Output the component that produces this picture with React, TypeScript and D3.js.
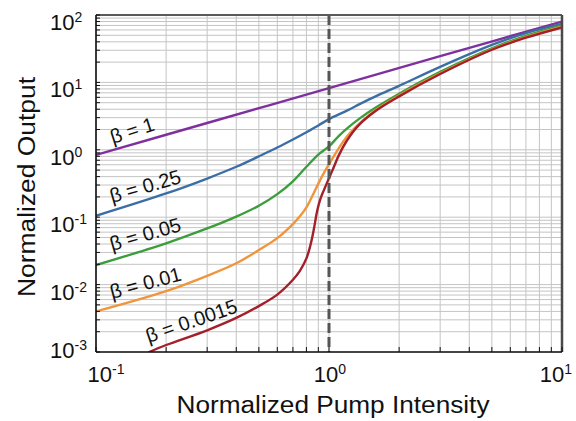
import React from 'react';
import * as d3 from 'd3';

const W = 576;
const H = 421;
const PLOT = { left: 96, right: 562, top: 15, bottom: 352 };

const xDomain = [0.1, 10];
const yDomain = [0.001, 100];
const xTickExps = [-1, 0, 1];
const yTickExps = [-3, -2, -1, 0, 1, 2];
const thresholdPump = 1;

const beta1X = [0.1, 0.3, 1, 3, 10];
const beta1Y = [0.84, 2.5, 8.2, 24.5, 80];

const beta025X = [0.1, 0.2, 0.3, 0.4, 0.5, 0.6, 0.7, 0.8, 0.9, 1.0, 1.2, 1.36, 1.6, 2, 3, 5, 7, 10];
const beta025Y = [0.105, 0.225, 0.375, 0.56, 0.8, 1.08, 1.42, 1.82, 2.3, 2.85, 3.85, 4.8, 6.3, 8.9, 17, 36, 54, 74];

const beta005X = [0.1, 0.2, 0.3, 0.4, 0.5, 0.6, 0.7, 0.8, 0.9, 1.0, 1.1, 1.2, 1.36, 1.6, 2, 3, 5, 7, 10];
const beta005Y = [0.0195, 0.041, 0.068, 0.102, 0.148, 0.22, 0.34, 0.56, 0.85, 1.12, 1.6, 2.1, 2.95, 4.3, 6.8, 14.3, 32, 49, 70];

const beta001X = [0.1, 0.2, 0.3, 0.4, 0.5, 0.6, 0.7, 0.75, 0.8, 0.85, 0.9, 0.95, 1.0, 1.08, 1.19, 1.36, 1.6, 2, 3, 5, 7, 10];
const beta001Y = [0.004, 0.008, 0.0135, 0.0207, 0.0326, 0.049, 0.079, 0.103, 0.14, 0.21, 0.315, 0.45, 0.61, 0.95, 1.55, 2.5, 3.95, 6.4, 13.6, 31, 47, 67];

const beta00015X = [0.169, 0.2, 0.3, 0.4, 0.5, 0.6, 0.7, 0.75, 0.8, 0.83, 0.86, 0.89, 0.92, 0.95, 1.0, 1.05, 1.1, 1.19, 1.33, 1.6, 2, 3, 5, 7, 10];
const beta00015Y = [0.001, 0.00127, 0.0021, 0.0032, 0.0048, 0.0071, 0.0118, 0.016, 0.0245, 0.037, 0.065, 0.125, 0.19, 0.25, 0.38, 0.56, 0.82, 1.35, 2.25, 3.85, 6.2, 13.3, 30.5, 46, 65.5];

const seriesNames = ['β = 1', 'β = 0.25', 'β = 0.05', 'β = 0.01', 'β = 0.0015'];
const seriesX = [beta1X, beta025X, beta005X, beta001X, beta00015X];
const seriesY = [beta1Y, beta025Y, beta005Y, beta001Y, beta00015Y];
const seriesColors = ['#7f2f9e', '#3c6ea6', '#3b9d3c', '#f0953b', '#a3202a'];

// label anchors in data coordinates (pump, output) and tilt
const labelX = [0.118, 0.117, 0.117, 0.117, 0.168];
const labelY = [1.22, 0.163, 0.0316, 0.0061, 0.00136];
const labelAngle = [-18, -16, -16, -15, -19];

const xTitle = 'Normalized Pump Intensity';
const yTitle = 'Normalized Output';

const FONT = '"Liberation Sans", Arial, Helvetica, sans-serif';

export default function App() {
  const x = d3.scaleLog().domain(xDomain).range([PLOT.left, PLOT.right]);
  const y = d3.scaleLog().domain(yDomain).range([PLOT.bottom, PLOT.top]);

  const line = d3
    .line<[number, number]>()
    .x((d) => x(d[0]))
    .y((d) => y(d[1]))
    .curve(d3.curveCatmullRom.alpha(0.5));

  const minorVals = (exps: number[]) => {
    const out: { v: number; major: boolean }[] = [];
    for (let i = 0; i < exps.length - 1; i++) {
      for (let m = 1; m <= 9; m++) out.push({ v: m * Math.pow(10, exps[i]), major: m === 1 });
    }
    out.push({ v: Math.pow(10, exps[exps.length - 1]), major: true });
    return out;
  };
  const xGrid = minorVals(xTickExps);
  const yGrid = minorVals(yTickExps);

  const supLabel = (exp: number) => (exp < 0 ? '-' + Math.abs(exp) : String(exp));

  const xLabelShift = [10, 1, -6];

  return (
    <svg
      width={W}
      height={H}
      style={{ position: 'absolute', left: 0, top: 0, background: '#fff' }}
      fontFamily={FONT}
    >
      <defs>
        <clipPath id="plotclip">
          <rect x={PLOT.left} y={PLOT.top} width={PLOT.right - PLOT.left} height={PLOT.bottom - PLOT.top} />
        </clipPath>
      </defs>
      <rect x={0} y={0} width={W} height={H} fill="#fff" />
      {/* grid */}
      <g stroke="#c4c4c4" strokeWidth={1}>
        {xGrid.map((g, i) => (
          <line key={'gx' + i} x1={x(g.v)} x2={x(g.v)} y1={PLOT.top} y2={PLOT.bottom} />
        ))}
        {yGrid.map((g, i) => (
          <line key={'gy' + i} x1={PLOT.left} x2={PLOT.right} y1={y(g.v)} y2={y(g.v)} />
        ))}
      </g>
      {/* curves */}
      <g clipPath="url(#plotclip)" fill="none" strokeWidth={2.4} strokeLinecap="round">
        {seriesX.map((xs, si) => {
          const pts: [number, number][] = xs.map((v, i) => [v, seriesY[si][i]]);
          return <path key={'s' + si} d={line(pts) || ''} stroke={seriesColors[si]} />;
        })}
      </g>
      {/* threshold dashed line */}
      <line
        x1={x(thresholdPump)}
        x2={x(thresholdPump)}
        y1={PLOT.top}
        y2={PLOT.bottom}
        stroke="#555"
        strokeWidth={3}
        strokeDasharray="10 4"
      />
      {/* frame */}
      <line x1={PLOT.left} x2={PLOT.right} y1={PLOT.top} y2={PLOT.top} stroke="#5a5a5a" strokeWidth={2} />
      <line x1={PLOT.right} x2={PLOT.right} y1={PLOT.top} y2={PLOT.bottom} stroke="#4a4a4a" strokeWidth={2.5} />
      <line x1={PLOT.left} x2={PLOT.right} y1={PLOT.bottom} y2={PLOT.bottom} stroke="#111" strokeWidth={1.6} />
      <line x1={PLOT.left} x2={PLOT.left} y1={PLOT.top} y2={PLOT.bottom} stroke="#111" strokeWidth={1.6} />
      {/* ticks */}
      <g stroke="#111" strokeWidth={1}>
        {xGrid.map((g, i) => (
          <line key={'tx' + i} x1={x(g.v)} x2={x(g.v)} y1={PLOT.bottom} y2={PLOT.bottom - 5} />
        ))}
        {yGrid.map((g, i) => (
          <line key={'ty' + i} x1={PLOT.left} x2={PLOT.left + 4} y1={y(g.v)} y2={y(g.v)} />
        ))}
      </g>
      {/* y tick labels */}
      {yTickExps.map((e, i) => {
        const yy = y(Math.pow(10, e)) + (i === 0 ? 6 : 15);
        return (
          <text key={'yl' + e} x={50} y={yy} fontSize={22} fill="#111">
            10
            <tspan fontSize={14} dy={-8}>
              {supLabel(e)}
            </tspan>
          </text>
        );
      })}
      {/* x tick labels */}
      {xTickExps.map((e, i) => (
        <text key={'xl' + e} x={x(Math.pow(10, e)) + xLabelShift[i]} y={382} fontSize={22} fill="#111" textAnchor="middle">
          10
          <tspan fontSize={14} dy={-8}>
            {supLabel(e)}
          </tspan>
        </text>
      ))}
      {/* axis titles */}
      <text
        x={(PLOT.left + PLOT.right) / 2 + 4}
        y={413}
        fontSize={23}
        textAnchor="middle"
        fill="#111"
        textLength={313}
        lengthAdjust="spacingAndGlyphs"
      >
        {xTitle}
      </text>
      <text
        transform={`translate(35, 187) rotate(-90)`}
        fontSize={23}
        textAnchor="middle"
        fill="#111"
        textLength={220}
        lengthAdjust="spacingAndGlyphs"
      >
        {yTitle}
      </text>
      {/* series labels */}
      {seriesNames.map((n, i) => (
        <text
          key={'lab' + i}
          transform={`translate(${x(labelX[i])}, ${y(labelY[i])}) rotate(${labelAngle[i]})`}
          fontSize={20}
          fill="#111"
        >
          {n}
        </text>
      ))}
    </svg>
  );
}
